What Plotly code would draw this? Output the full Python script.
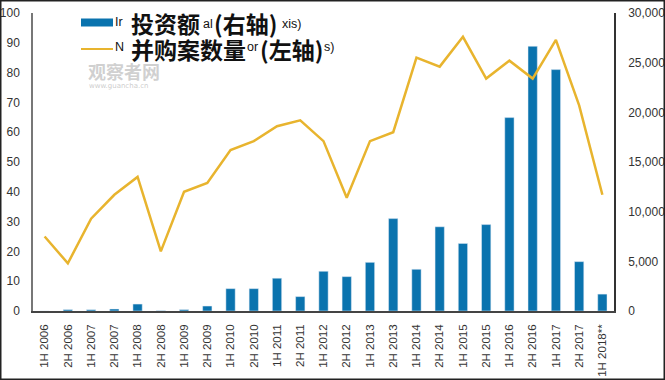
import plotly.graph_objects as go

categories = ["1H 2006", "2H 2006", "1H 2007", "2H 2007", "1H 2008", "2H 2008",
              "1H 2009", "2H 2009", "1H 2010", "2H 2010", "1H 2011", "2H 2011",
              "1H 2012", "2H 2012", "1H 2013", "2H 2013", "1H 2014", "2H 2014",
              "1H 2015", "2H 2015", "1H 2016", "2H 2016", "1H 2017", "2H 2017",
              "1H 2018**"]

# Investment value (right axis)
investment = [0, 140, 130, 200, 700, 30, 140, 500, 2250, 2250, 3300, 1450,
              4000, 3460, 4900, 9300, 4200, 8480, 6800, 8700, 19470, 26650,
              24300, 4970, 1700]

# Number of M&A deals (left axis)
deals = [25, 16, 31, 39, 45, 20, 40, 43, 54, 57, 62, 64, 57, 38, 57, 60,
         85, 82, 92, 78, 84, 78, 91, 69, 39]

left_ticks = [0, 10, 20, 30, 40, 50, 60, 70, 80, 90, 100]
right_ticks = [0, 5000, 10000, 15000, 20000, 25000, 30000]

W, H = 665, 380
L, R, T, B = 33, 51, 13, 69
PW, PH = W - L - R, H - T - B

def px(x):
    return (x - L) / PW

def py(y):
    return (H - B - y) / PH

TICKF = "Liberation Sans, Arial, sans-serif"
CJK = "Noto Sans CJK SC"
BLUE = "#0A73AE"
GOLD = "#E8B42E"

fig = go.Figure()
fig.add_trace(go.Bar(x=categories, y=investment, yaxis="y", marker_color=BLUE,
                     width=0.4, showlegend=False, name="投资额(右轴)"))
fig.add_trace(go.Scatter(x=categories, y=deals, yaxis="y2", mode="lines",
                         line=dict(color=GOLD, width=2.5), showlegend=False,
                         name="并购案数量(左轴)"))

fig.update_layout(
    width=W, height=H,
    margin=dict(l=L, r=R, t=T, b=B, autoexpand=False),
    paper_bgcolor="white", plot_bgcolor="white",
    font=dict(family=TICKF, size=12, color="#333"),
    xaxis=dict(type="category", range=[-0.5, 24.5], tickangle=-90,
               showline=True, linecolor="#444", linewidth=1.5,
               showgrid=False, ticks="", ticklabelstandoff=7, automargin=False,
               tickfont=dict(family=TICKF, size=11.5, color="#333")),
    yaxis=dict(side="right", range=[0, 30000], tickvals=right_ticks,
               tickformat=",", showgrid=False, zeroline=False,
               showline=True, linecolor="#333", linewidth=1.5, ticks="",
               ticklabelstandoff=10, automargin=False,
               tickfont=dict(family=TICKF, size=12, color="#333")),
    yaxis2=dict(side="left", overlaying="y", range=[0, 100], tickvals=left_ticks,
                showgrid=False, zeroline=False,
                showline=True, linecolor="#777", linewidth=1.5, ticks="",
                ticklabelstandoff=9, automargin=False,
                tickfont=dict(family=TICKF, size=12, color="#333")),
)

shapes = [
    # outer frame of the picture
    dict(type="rect", xref="paper", yref="paper",
         x0=px(0.75), x1=px(W - 0.75), y0=py(0.75), y1=py(H - 0.75),
         line=dict(color="#222", width=1.5), fillcolor="rgba(0,0,0,0)", layer="above"),
    # legend symbols
    dict(type="rect", xref="paper", yref="paper",
         x0=px(81), x1=px(113), y0=py(18.5), y1=py(26.5),
         line=dict(width=0), fillcolor=BLUE),
    dict(type="line", xref="paper", yref="paper",
         x0=px(81), x1=px(113), y0=py(49), y1=py(49),
         line=dict(color=GOLD, width=2)),
]
fig.update_layout(shapes=shapes)

def frag(x, y, text, size, bold=False, family=CJK, color="#111"):
    return dict(xref="paper", yref="paper", x=px(x), y=py(y), xanchor="left",
                yanchor="middle", showarrow=False, borderpad=0,
                font=dict(family=family, size=size, color=color,
                          weight="bold" if bold else "normal"),
                text=text)

annotations = [
    frag(114, 22, "Ir", 12.5, family=TICKF),
    frag(130, 22.5, "投资额", 23, bold=True),
    frag(202, 24, "al", 12.5, family=TICKF),
    frag(213, 22.5, "(右轴)", 23, bold=True),
    frag(281, 24, "xis)", 12.5, family=TICKF),
    frag(114, 47, "N", 12.5, family=TICKF),
    frag(130, 49.5, "并购案数量", 23, bold=True),
    frag(246, 47, "or", 12.5, family=TICKF),
    frag(259, 49.5, "(左轴)", 23, bold=True),
    frag(323, 47, "s)", 12.5, family=TICKF),
    # watermark
    frag(87, 71, "观察者网", 18, bold=True, color="rgba(200,200,200,0.85)"),
    frag(88, 86, "www.guancha.cn", 7, family="DejaVu Sans", color="rgba(195,195,195,0.85)"),
]
fig.update_layout(annotations=annotations)

fig.write_html("out.html",
               config={"displayModeBar": False},
               post_script="document.body.style.margin='0';document.body.style.overflow='hidden';")
